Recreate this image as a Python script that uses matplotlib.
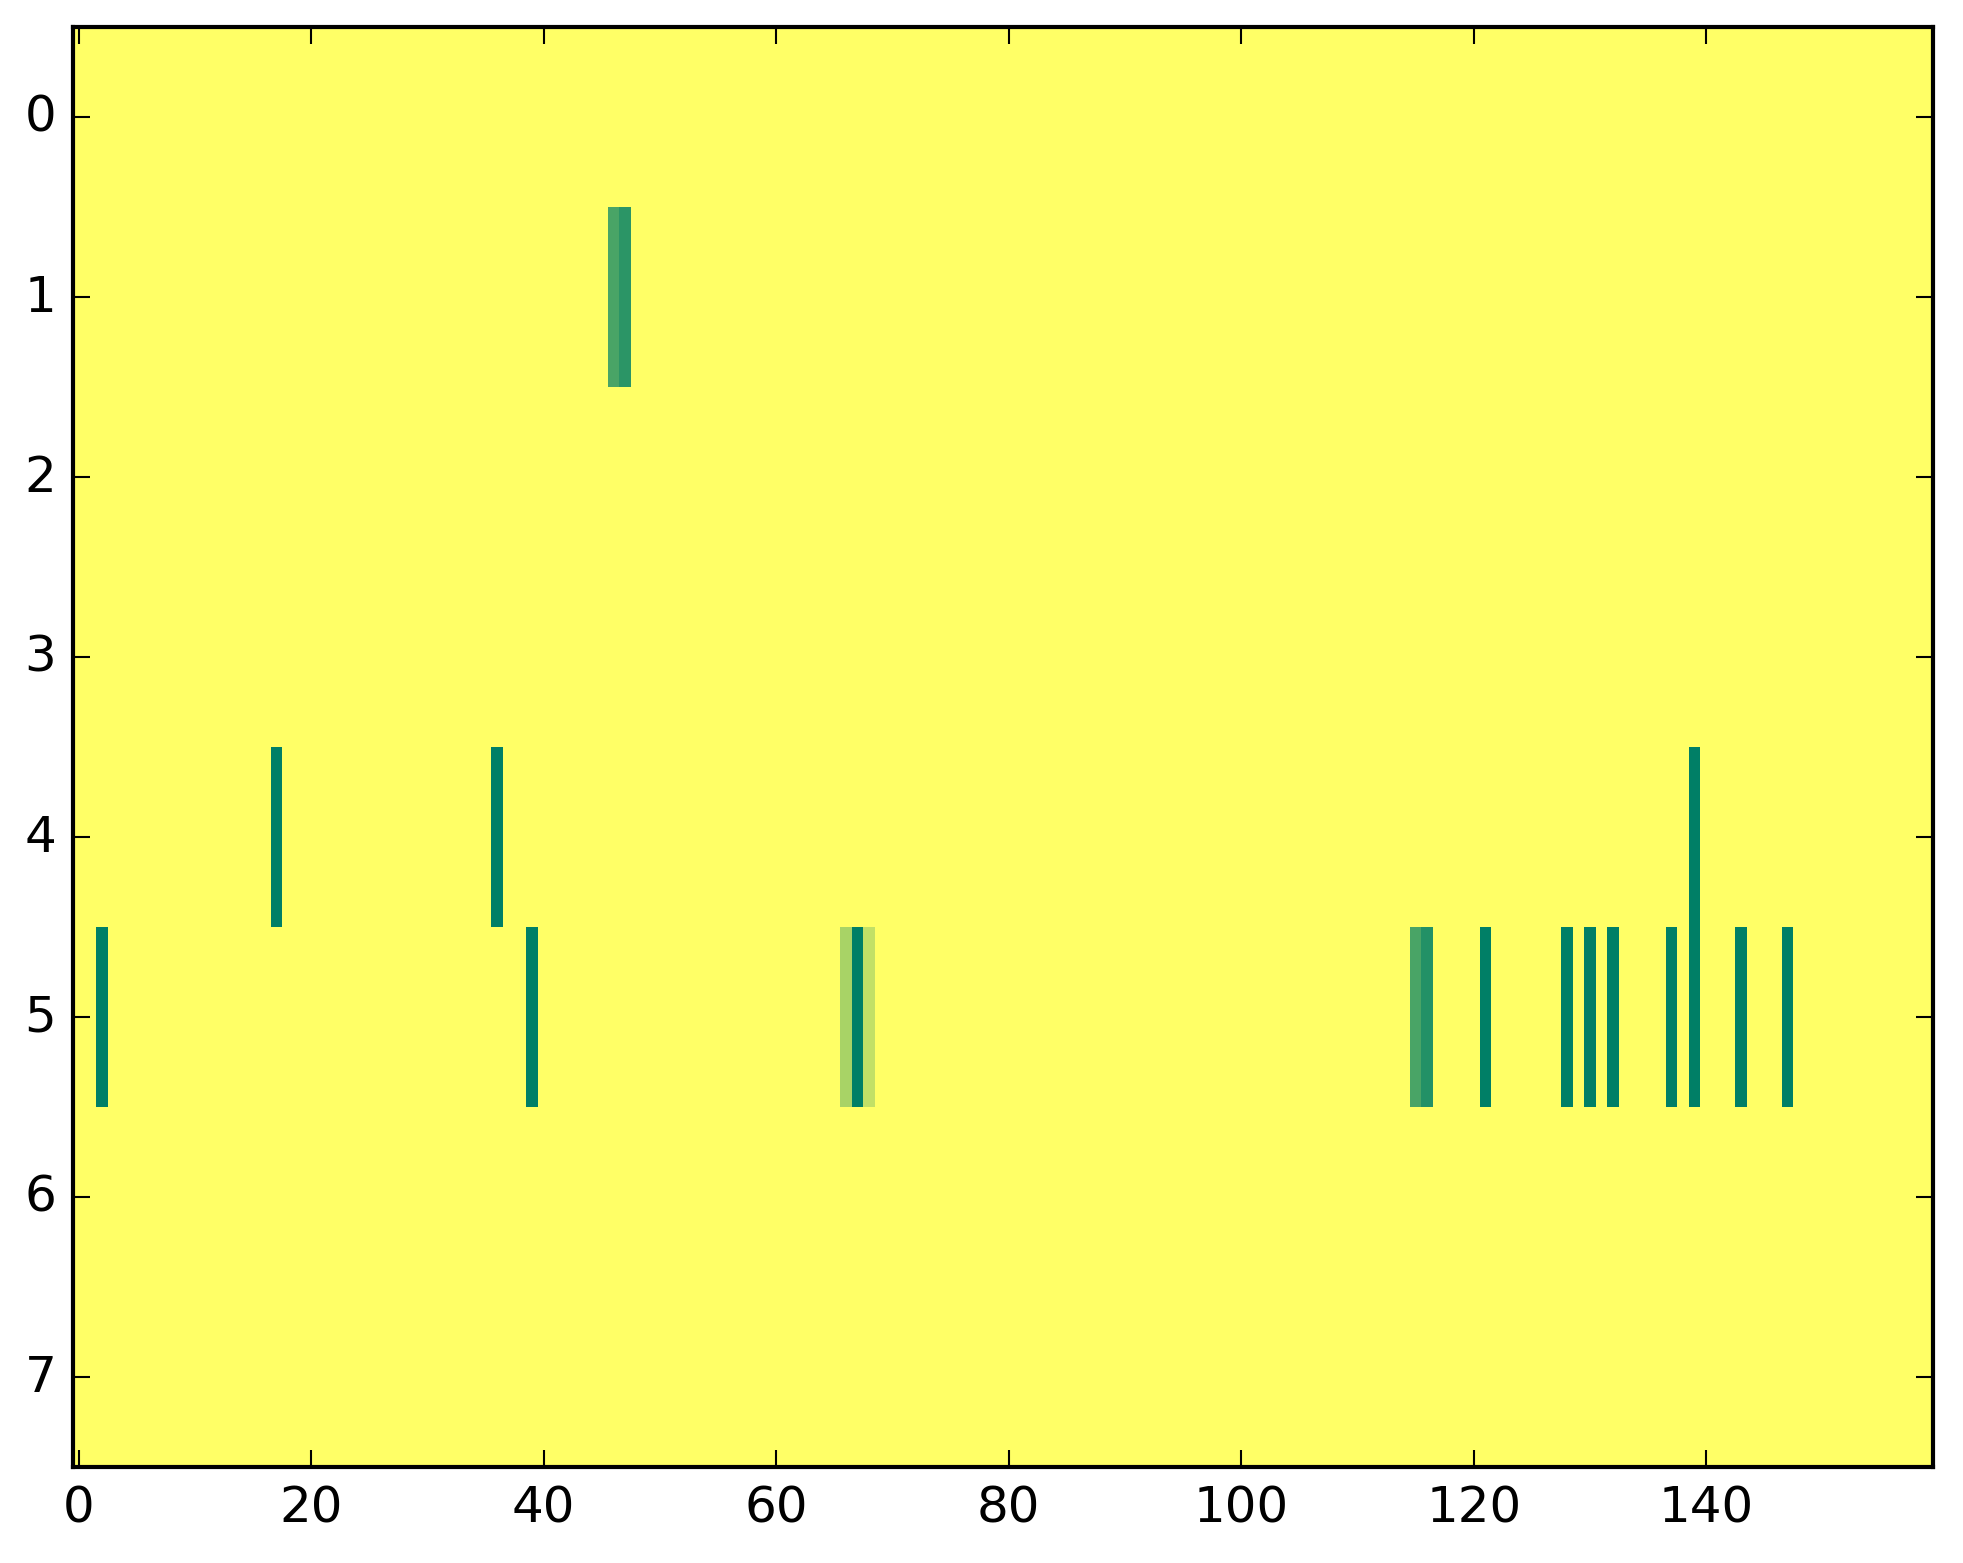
import numpy as np
import matplotlib
matplotlib.use("Agg")
import matplotlib.pyplot as plt

plt.style.use('classic')

n_rows = 8
n_cols = 160

# (row, column, value) of non-zero cells, value on 0..1 scale
cell_rows = [1, 1, 4, 4, 4, 5, 5, 5, 5, 5, 5, 5, 5, 5, 5, 5, 5, 5, 5, 5]
cell_cols = [46, 47, 17, 36, 139, 2, 39, 66, 67, 68, 115, 116, 121, 128, 130, 132, 137, 139, 143, 147]
cell_vals = [0.71, 0.83, 1.0, 1.0, 1.0, 1.0, 1.0, 0.34, 1.0, 0.24, 0.71, 0.86, 1.0, 1.0, 1.0, 1.0, 1.0, 1.0, 1.0, 1.0]

data = np.zeros((n_rows, n_cols))
for r, c, v in zip(cell_rows, cell_cols, cell_vals):
    data[r, c] = v

fig = plt.figure(figsize=(1963 / 300, 1564 / 300), dpi=300)
ax = fig.add_axes([73 / 1963, 96 / 1564, 1860 / 1963, 1440 / 1564])
ax.imshow(data, cmap='summer_r', vmin=0, vmax=1, aspect='auto', interpolation='nearest')
ax.set_xlim(-0.5, n_cols - 0.5)
ax.set_ylim(n_rows - 0.5, -0.5)
ax.set_xticks(np.arange(0, 160, 20))
ax.set_yticks(np.arange(0, 8))
fig.savefig('out.png', dpi=300, facecolor='white')
